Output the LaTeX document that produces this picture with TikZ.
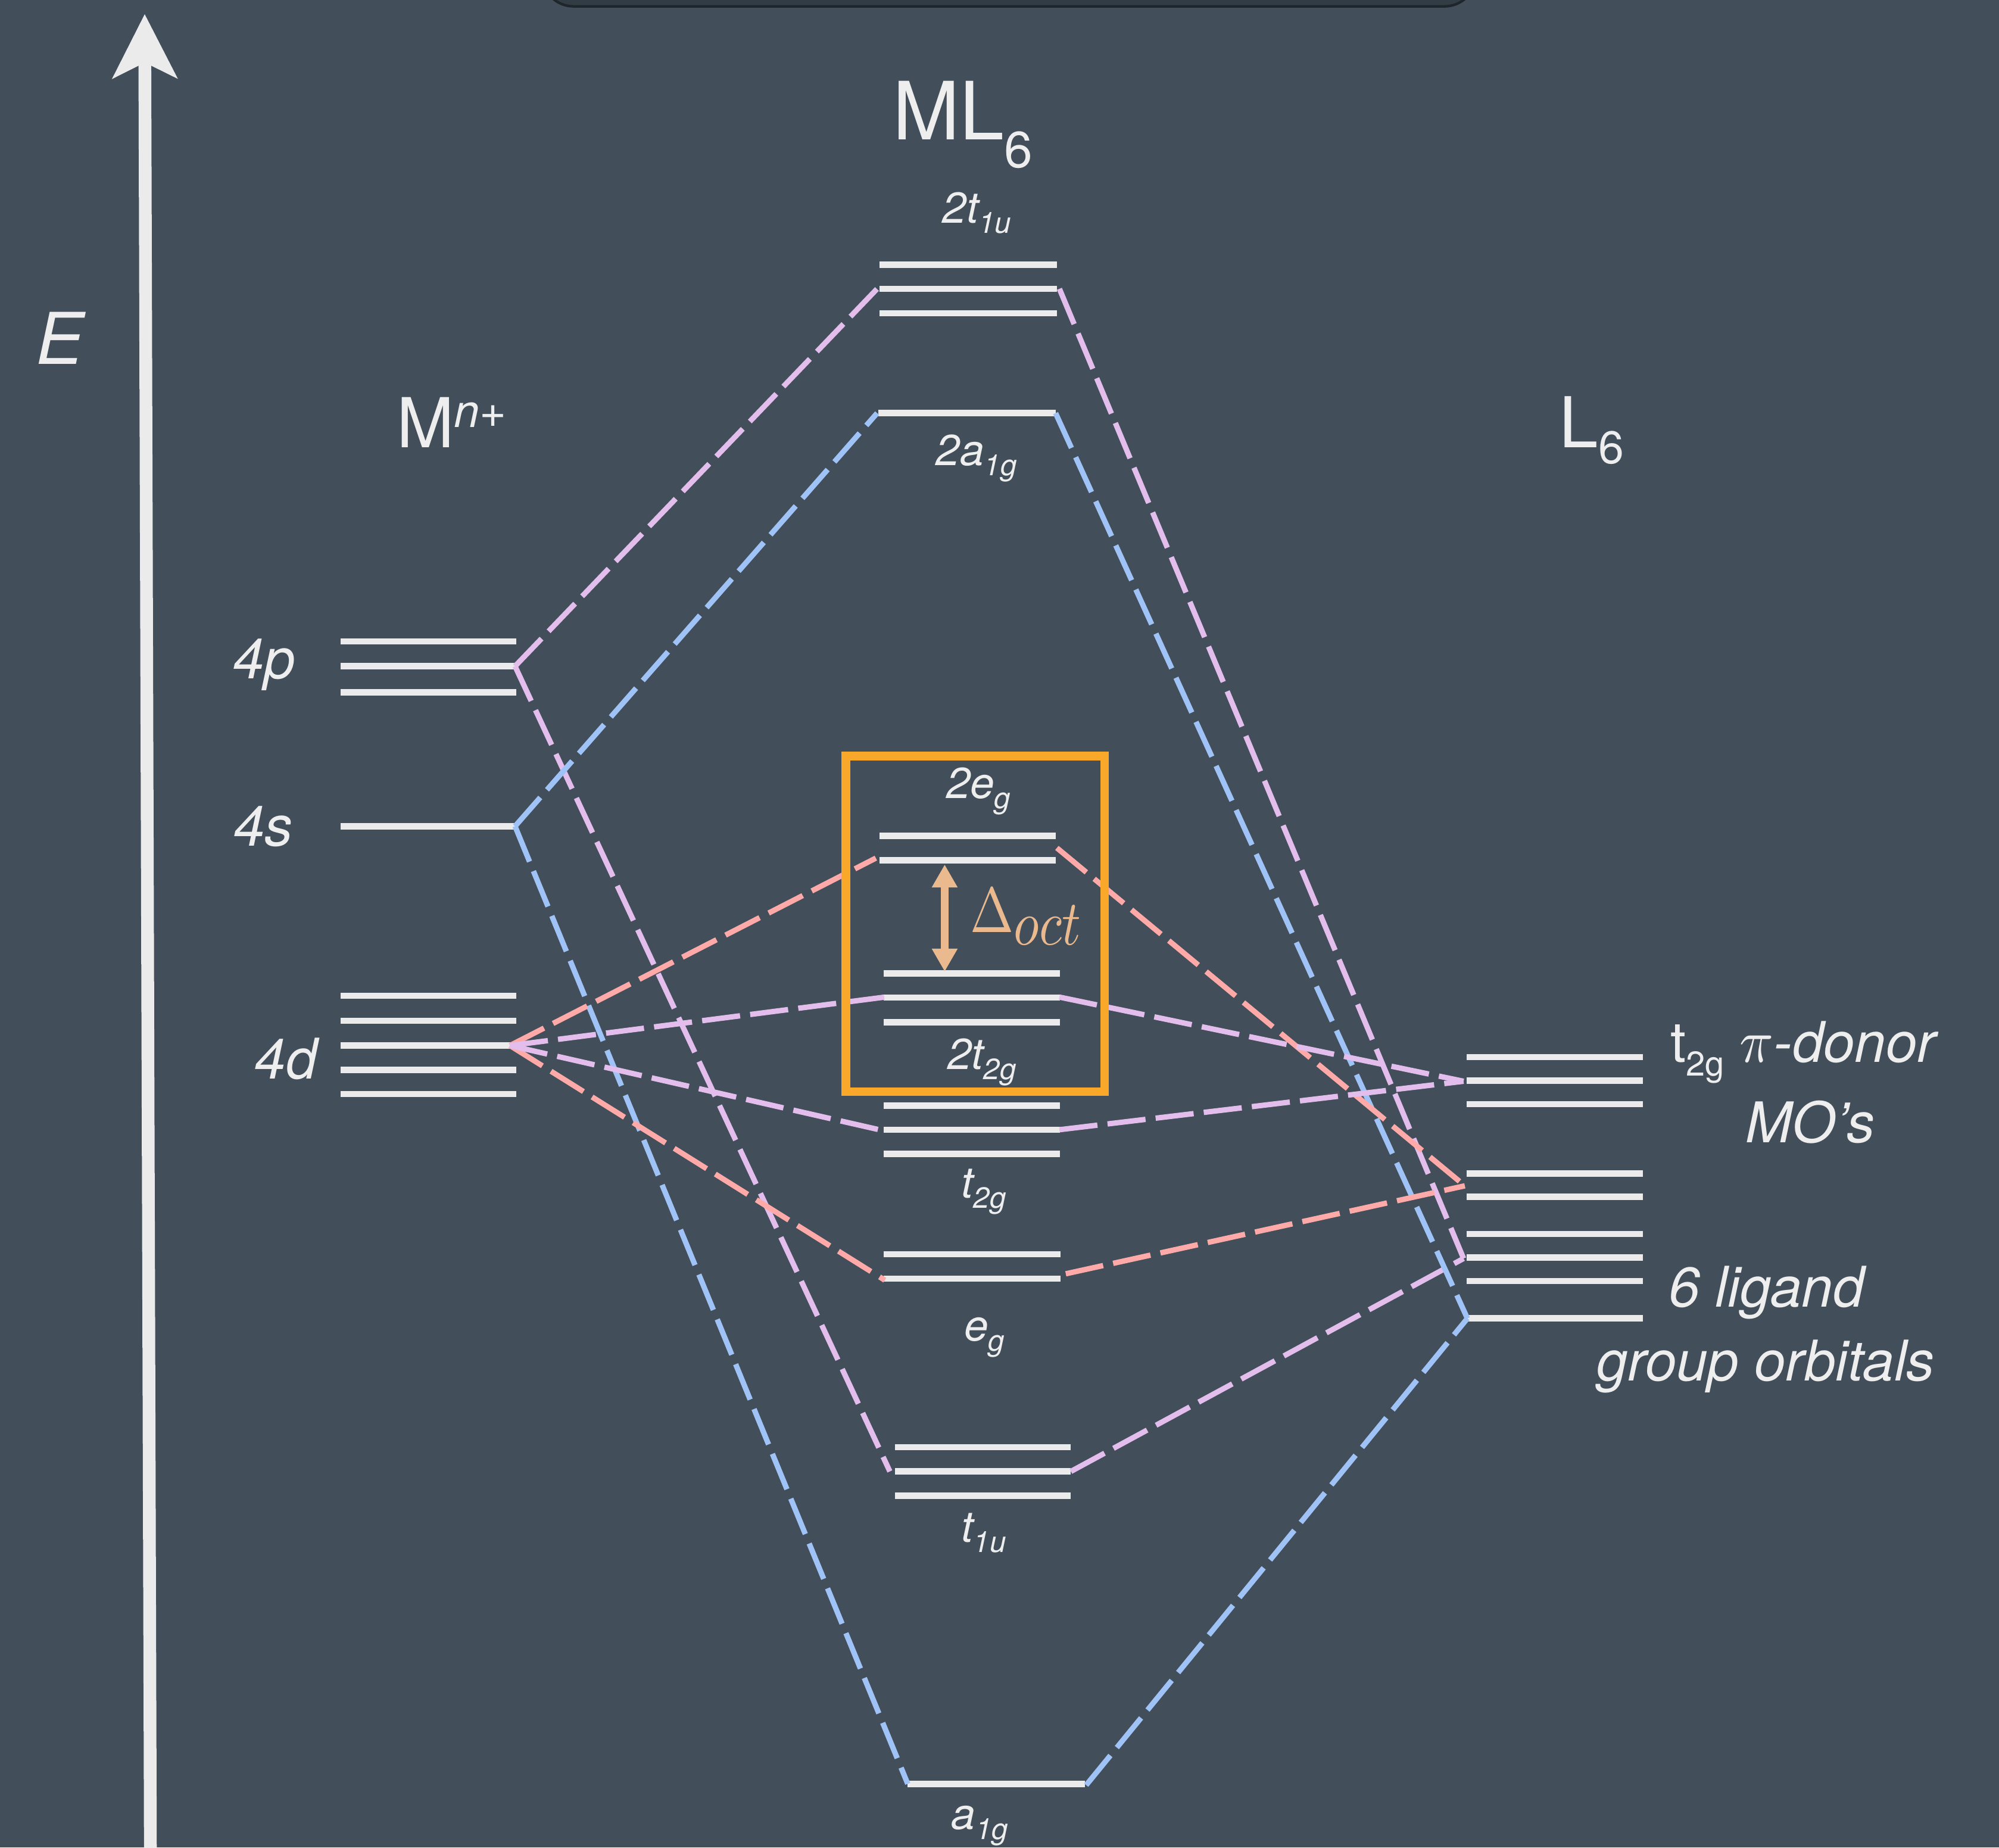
\documentclass[tikz,border=0pt]{standalone}
\usepackage[no-math]{fontspec}
\setmainfont{TeX Gyre Heros}
\usetikzlibrary{arrows.meta}
\definecolor{bgcol}{HTML}{424F5A}
\definecolor{lvlcol}{HTML}{EBEBEB}
\definecolor{txtcol}{HTML}{EEEEEE}
\definecolor{lilac}{HTML}{E3BDEB}
\definecolor{skyb}{HTML}{A0C3F7}
\definecolor{salmon}{HTML}{FFAAA9}
\definecolor{boxor}{HTML}{FAA82A}
\definecolor{deltacol}{HTML}{EBB98E}
\definecolor{topfill}{HTML}{323C44}
\definecolor{topedge}{HTML}{1E262C}
\newcommand\lbl[2]{{\fontsize{34}{40}\selectfont\itshape #1\raisebox{-8pt}{\fontsize{23}{26}\selectfont #2}}}
\newcommand\bigmath[3]{{\fontsize{10}{12}\selectfont\scalebox{#1}[#2]{$#3$}}}
\begin{document}
\begin{tikzpicture}[x=1pt,y=-1pt,
  lvl/.style={draw=lvlcol,line width=5pt},
  conn/.style={line width=4.2pt,dash pattern=on 30pt off 8pt},
  lab/.style={anchor=base west,inner sep=0pt,text=txtcol},
  rlab/.style={anchor=base east,inner sep=0pt,text=txtcol,font=\fontsize{44}{50}\selectfont\itshape},
  clab/.style={anchor=base,inner sep=0pt,text=txtcol,font=\fontsize{44}{50}\selectfont\itshape}]
\useasboundingbox (0,0) rectangle (1568,1449);
\fill[bgcol] (0,0) rectangle (1568,1449);
\clip (0,0) rectangle (1568,1449);
\filldraw[fill=topfill,draw=topedge,line width=2pt,rounded corners=25pt] (425,-40) rectangle (1158,5);

% energy axis
\coordinate (Ebot) at (118,1460);
\coordinate (Etop) at (113.5,11);
\draw[line width=10pt,draw=lvlcol,-{Stealth[length=50pt,width=50pt,inset=12pt]}] (Ebot) -- (Etop);
\node[lab,font=\fontsize{56}{60}\selectfont\itshape] (E) at (28,285.5) {E};

% metal levels
\foreach \y in {503,522.5,543} \draw[lvl] (267,\y) -- (405,\y);
\draw[lvl] (267,648) -- (405,648);
\foreach \y in {781,800.5,820,839,858} \draw[lvl] (267,\y) -- (405,\y);
% ML6 levels
\foreach \y in {207.5,226.5,245.7} \draw[lvl] (690,\y) -- (829,\y);
\draw[lvl] (689,324) -- (828,324);
\foreach \y in {655.7,674.8} \draw[lvl] (690,\y) -- (828,\y);
\foreach \y in {763.3,782.4,801.7} \draw[lvl] (693,\y) -- (831.4,\y);
\foreach \y in {867,886,905} \draw[lvl] (693,\y) -- (831.4,\y);
\foreach \y in {983.7,1002.8} \draw[lvl] (693,\y) -- (831.8,\y);
\foreach \y in {1135,1154,1173} \draw[lvl] (702,\y) -- (840,\y);
\draw[lvl] (712,1399) -- (851,1399);
% ligand levels
\foreach \y in {829,847.4,866,920.4,938.7,967.8,986.3,1004.7,1034} \draw[lvl] (1150.5,\y) -- (1288.7,\y);

% connection points
\coordinate (c4p) at (404,522.5);
\coordinate (c4s) at (404,648);
\coordinate (c4d) at (400,820);
\coordinate (c2t1uL) at (688,226.5);
\coordinate (c2t1uR) at (831,226.5);
\coordinate (c2a1gL) at (688,324);
\coordinate (c2a1gR) at (828,324);
\coordinate (c2egL) at (687,673);
\coordinate (c2egR) at (829,665);
\coordinate (c2t2gL) at (694,782);
\coordinate (c2t2gR) at (831,782);
\coordinate (ct2gL) at (694,887);
\coordinate (ct2gR) at (831,886);
\coordinate (cegL) at (694,1004);
\coordinate (cegR) at (836,999);
\coordinate (ct1uL) at (698,1154);
\coordinate (ct1uR) at (840,1154);
\coordinate (ca1gL) at (712,1399);
\coordinate (ca1gR) at (852,1400);
\coordinate (Rpi) at (1148,848);
\coordinate (Rsal) at (1149,930);
\coordinate (Rlil) at (1148,987);
\coordinate (Rblu) at (1151,1034);

% connectors
\draw[conn,lilac] (c4p) -- (c2t1uL);
\draw[conn,lilac] (c2t1uR) -- (Rlil);
\draw[conn,lilac] (c4p) -- (ct1uL);
\draw[conn,lilac] (ct1uR) -- (Rlil);
\draw[conn,skyb] (c4s) -- (c2a1gL);
\draw[conn,skyb] (c2a1gR) -- (Rblu);
\draw[conn,skyb] (c4s) -- (ca1gL);
\draw[conn,skyb] (ca1gR) -- (Rblu);
\draw[conn,salmon] (c4d) -- (c2egL);
\draw[conn,salmon] (c2egR) -- (Rsal);
\draw[conn,salmon] (c4d) -- (cegL);
\draw[conn,salmon] (cegR) -- (Rsal);
\draw[conn,lilac] (c4d) -- (c2t2gL);
\draw[conn,lilac] (c2t2gR) -- (Rpi);
\draw[conn,lilac] (c4d) -- (ct2gL);
\draw[conn,lilac] (ct2gR) -- (Rpi);

% orange box
\coordinate (boxNW) at (663.5,593);
\coordinate (boxSE) at (866.4,856);
\draw[draw=boxor,line width=6.7pt] (boxNW) rectangle (boxSE);

% Delta oct
\coordinate (dTop) at (741,678);
\coordinate (dBot) at (741,762);
\draw[line width=6pt,draw=deltacol,{Triangle[length=18pt,width=19pt]}-{Triangle[length=18pt,width=19pt]}] (dTop) -- (dBot);
\node[lab,text=deltacol] (doct) at (761,731) {\bigmath{4.1}{5.0}{\Delta\raisebox{-2pt}{$oct$}}};

% titles
\node[lab,font=\fontsize{63}{70}\selectfont] (ML6) at (700,109.3) {ML\raisebox{-22pt}{\fontsize{40}{44}\selectfont 6}};
\node[lab,font=\fontsize{54}{60}\selectfont] (Mn) at (311,351) {M\raisebox{16pt}{\fontsize{36}{40}\selectfont\textit{n}+}};
\node[lab,font=\fontsize{55}{60}\selectfont] (L6) at (1223,351) {L\raisebox{-12.4pt}{\fontsize{36}{40}\selectfont 6}};

% metal labels
\node[rlab] (l4p) at (232,532) {4p};
\node[rlab] (l4s) at (230,663.5) {4s};
\node[rlab] (l4d) at (249,846) {4d};

% MO labels
\node[lab] (n2t1u) at (739,175) {\lbl{2t}{1u}};
\node[lab] (n2a1g) at (734,365) {\lbl{2a}{1g}};
\node[lab] (n2eg) at (742,626) {\lbl{2e}{g}};
\node[lab] (n2t2g) at (743,838.5) {\lbl{2t}{2g}};
\node[lab] (nt2g) at (754,939.6) {\lbl{t}{2g}};
\node[lab] (neg) at (756,1051.6) {\lbl{e}{g}};
\node[lab] (nt1u) at (754,1209.4) {\lbl{t}{1u}};
\node[lab] (na1g) at (746,1434.7) {\lbl{a}{1g}};

% ligand labels
\node[lab,font=\fontsize{44}{50}\selectfont] (pidonor) at (1310,833) {t\raisebox{-10.6pt}{\fontsize{27}{30}\selectfont 2g} \bigmath{4.4}{4.8}{\pi}\textit{-donor}};
\node[clab] (mos) at (1420,896) {MO's};
\node[clab] (lig) at (1385.5,1025) {6 ligand};
\node[clab] (grp) at (1385,1083) {group orbitals};
\end{tikzpicture}
\end{document}
